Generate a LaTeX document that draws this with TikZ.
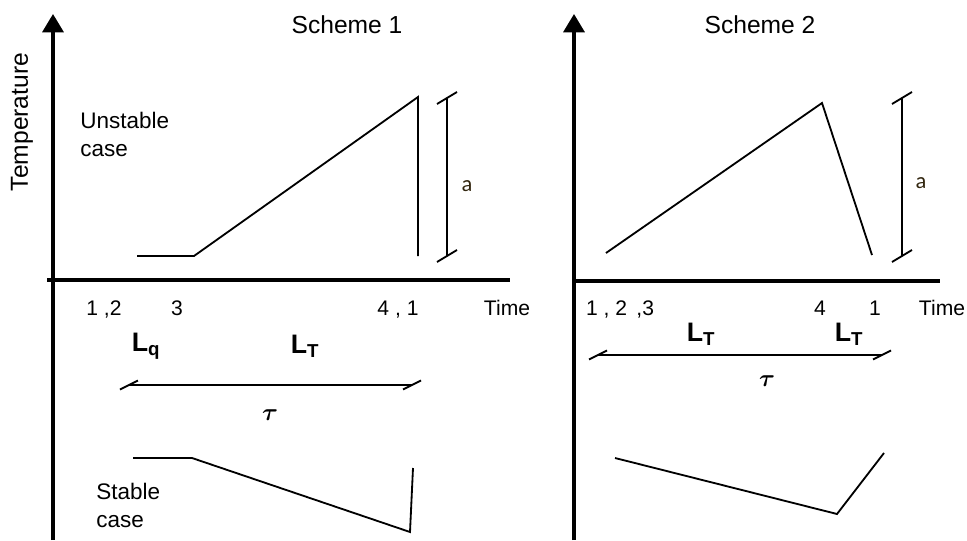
\documentclass[tikz,border=0pt]{standalone}
\usepackage{amsmath}
\usepackage{fontspec}
\setmainfont{Liberation Sans}
\newfontfamily\calfont{Carlito}
\usetikzlibrary{arrows.meta}
\definecolor{alabel}{RGB}{50,38,15}

\begin{document}
\begin{tikzpicture}[x=0.025cm, y=-0.025cm]
\tikzstyle{axis} = [line width=2.2pt, -{Triangle[width=15pt,length=13pt]}]
\tikzstyle{flataxis} = [line width=2.2pt]
\tikzstyle{curve} = [line width=1.3pt, line join=miter]
\tikzstyle{dimline} = [line width=1.3pt]
\tikzstyle{lbl} = [font=\fontsize{15}{18}\selectfont, inner sep=0pt]
\tikzstyle{title} = [font=\fontsize{17.5}{21}\selectfont, inner sep=0pt]
\tikzstyle{case} = [font=\fontsize{16}{19.5}\selectfont, inner sep=0pt, align=left, anchor=north west]
\tikzstyle{sym} = [font=\fontsize{19}{22}\selectfont\boldmath, inner sep=0pt]
\tikzstyle{alen} = [font=\fontsize{16}{19}\selectfont\calfont, text=alabel, inner sep=0pt]

\useasboundingbox (0,0) rectangle (967,540);

% Scheme 1
\coordinate (top1) at (53,14);
\coordinate (bot1) at (53,540);
\coordinate (xs1) at (47,280);
\coordinate (xe1) at (510,280);
\draw [axis] (bot1) -- (top1);
\draw [flataxis] (xs1) -- (xe1);

\node [title] (sch1) at (347,25) {Scheme 1};
\node [title, rotate=90] (temp) at (22,122) {Temperature};
\node [case] (unst1) at (80,112) {Unstable\\case};
\node [case] (stab1) at (96,483) {Stable\\case};

\node [lbl, anchor=base] (t12) at (104,315) {1 ,2};
\node [lbl, anchor=base] (t3) at (177,315) {3};
\node [lbl, anchor=base] (t41) at (398,315) {4 , 1};
\node [lbl, anchor=base] (time1) at (507,315) {Time};

\coordinate (u1a) at (137,256);
\coordinate (u1b) at (194,256);
\coordinate (u1c) at (418,97);
\coordinate (u1d) at (418,256);
\draw [curve] (u1a) -- (u1b) -- (u1c) -- (u1d);

\coordinate (atop1) at (447,98);
\coordinate (abot1) at (447,256);
\draw [dimline] (atop1) -- (abot1);
\draw [dimline] (atop1) ++(-10,6) -- ++(20,-12);
\draw [dimline] (abot1) ++(-10,6) -- ++(20,-12);
\node [alen] (a1) at (467,186) {a};

\node [sym] (lq1) at (146,346) {$\mathrm{L}_{\mathrm{q}}$};
\node [sym] (lt1) at (305,346) {$\mathrm{L}_{\mathrm{T}}$};
\coordinate (tl1) at (129,385);
\coordinate (tr1) at (412,385);
\draw [dimline] (tl1) -- (tr1);
\draw [dimline] (tl1) ++(-9,4.5) -- ++(18,-9);
\draw [dimline] (tr1) ++(-9,4.5) -- ++(18,-9);
\node [sym] (tau1) at (270,415) {$\tau$};

\coordinate (s1a) at (133,458);
\coordinate (s1b) at (192,458);
\coordinate (s1c) at (410,532);
\coordinate (s1d) at (413,468);
\draw [curve] (s1a) -- (s1b) -- (s1c) -- (s1d);

% Scheme 2
\coordinate (top2) at (574,14);
\coordinate (bot2) at (574,540);
\coordinate (xs2) at (574,281);
\coordinate (xe2) at (940,281);
\draw [axis] (bot2) -- (top2);
\draw [flataxis] (xs2) -- (xe2);

\node [title] (sch2) at (760,25) {Scheme 2};

\node [lbl, anchor=base] (t123) at (620,315) {1 , 2 \,,3};
\node [lbl, anchor=base] (t4) at (820,315) {4};
\node [lbl, anchor=base] (t1) at (875,315) {1};
\node [lbl, anchor=base] (time2) at (942,315) {Time};

\coordinate (u2a) at (606,253);
\coordinate (u2b) at (822,103);
\coordinate (u2c) at (872,255);
\draw [curve] (u2a) -- (u2b) -- (u2c);

\coordinate (atop2) at (902,98);
\coordinate (abot2) at (902,256);
\draw [dimline] (atop2) -- (abot2);
\draw [dimline] (atop2) ++(-10,6) -- ++(20,-12);
\draw [dimline] (abot2) ++(-10,6) -- ++(20,-12);
\node [alen] (a2) at (921,183) {a};

\node [sym] (lt2) at (701,334) {$\mathrm{L}_{\mathrm{T}}$};
\node [sym] (lt3) at (849,334) {$\mathrm{L}_{\mathrm{T}}$};
\coordinate (tl2) at (598,355);
\coordinate (tr2) at (882,355);
\draw [dimline] (tl2) -- (tr2);
\draw [dimline] (tl2) ++(-9,4.5) -- ++(18,-9);
\draw [dimline] (tr2) ++(-9,4.5) -- ++(18,-9);
\node [sym] (tau2) at (767,381) {$\tau$};

\coordinate (s2a) at (615,458);
\coordinate (s2b) at (837,514);
\coordinate (s2c) at (884,453);
\draw [curve] (s2a) -- (s2b) -- (s2c);

\end{tikzpicture}
\end{document}
